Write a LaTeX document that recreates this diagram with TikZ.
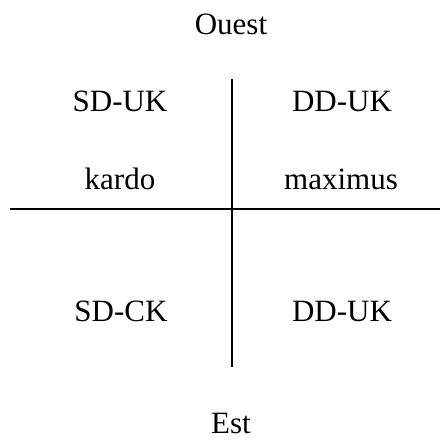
\documentclass[tikz,border=0pt]{standalone}
\usepackage{fontspec}
\setmainfont{Liberation Serif}
\usepackage{tikz}
\usetikzlibrary{positioning}

\begin{document}
\begin{tikzpicture}[x=1pt,y=-1pt,
    label/.style={anchor=base, inner sep=0pt, font=\fontsize{31}{36}\selectfont},
    axis/.style={black, line width=2.2pt}]
    \useasboundingbox (0,0) rectangle (440,440);

    % Axes
    \coordinate (top) at (232,79);
    \coordinate (bottom) at (232,367);
    \coordinate (left) at (10,209);
    \coordinate (right) at (440,209);
    \draw[axis] (top) -- (bottom);
    \draw[axis] (left) -- (right);

    % Directions
    \node[label] (ouest) at (231,34) {Ouest};
    \node[label] (est) at (231,433) {Est};

    % Quadrant labels
    \node[label] (sduk) at (120,111) {SD-UK};
    \node[label] (dduk) at (342,111) {DD-UK};
    \node[label] (kardo) at (120,189) {kardo};
    \node[label] (maximus) at (341,189) {maximus};
    \node[label] (sdck) at (121,321) {SD-CK};
    \node[label] (ddukb) at (342,321) {DD-UK};
\end{tikzpicture}
\end{document}
